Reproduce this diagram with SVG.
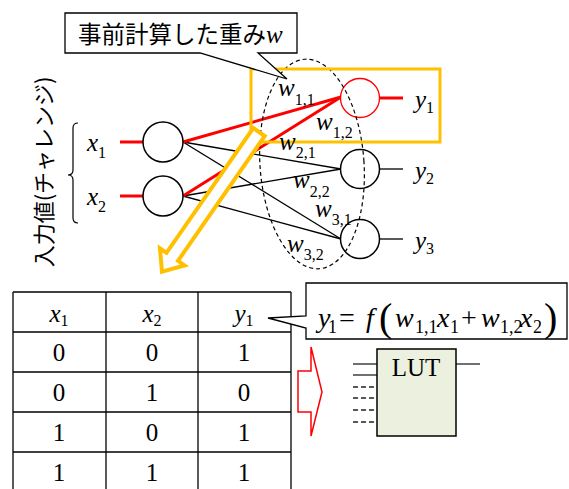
<svg xmlns="http://www.w3.org/2000/svg" width="569" height="489" viewBox="0 0 569 489">
<style>
.blk{stroke:#000;stroke-width:1.3;fill:none}
.red{stroke:#FF0000;stroke-width:3;fill:none}
.node{fill:#fff;stroke:#000;stroke-width:1.5}
.tl{stroke:#000;stroke-width:1.3}
</style>

<g id="connectors">
  <line class="red" x1="120" y1="142" x2="143" y2="142"/>
  <line class="red" x1="120" y1="196" x2="143" y2="196"/>
  <line class="blk" x1="183" y1="142" x2="341" y2="169"/>
  <line class="blk" x1="183" y1="142" x2="341" y2="239"/>
  <line class="blk" x1="183" y1="196" x2="341" y2="169"/>
  <line class="blk" x1="183" y1="196" x2="341" y2="239"/>
  <line class="red" x1="183" y1="142" x2="341" y2="97"/>
  <line class="red" x1="183" y1="196" x2="341" y2="97"/>
  <line class="red" x1="379" y1="98" x2="403" y2="98"/>
  <line class="blk" x1="379" y1="169" x2="403" y2="169"/>
  <line class="blk" x1="379" y1="239" x2="403" y2="239"/>
</g>

<g id="in1"><circle class="node" cx="163" cy="142" r="20"/></g>
<g id="in2"><circle class="node" cx="163" cy="196" r="20"/></g>
<g id="out1"><circle cx="360" cy="98" r="19.5" fill="#fff" stroke="#FF0000" stroke-width="1.3"/></g>
<g id="out2"><circle class="node" cx="360" cy="169" r="19.5"/></g>
<g id="out3"><circle class="node" cx="360" cy="239" r="19.5"/></g>

<g id="weights-ellipse">
  <ellipse cx="312" cy="164" rx="52" ry="105" transform="rotate(-4 312 164)" fill="none" stroke="#000" stroke-width="1.2" stroke-dasharray="4,3"/>
</g>

<g id="highlight">
  <rect x="251" y="69" width="189" height="73" fill="none" stroke="#FFC000" stroke-width="3"/>
</g>

<g id="big-arrow">
  <polygon transform="translate(259,132) rotate(124.8)" points="0,-7 152,-7 152,-15 170,0 152,15 152,7 0,7" fill="#fff" stroke="#FFC000" stroke-width="4"/>
</g>

<g id="labels" font-family="Liberation Serif, serif" font-size="25" font-style="italic" fill="#000">
  <text x="278" y="96">w<tspan font-size="16" font-style="normal" dy="9">1,1</tspan></text>
  <text x="316" y="130">w<tspan font-size="16" font-style="normal" dy="8">1,2</tspan></text>
  <text x="279" y="150">w<tspan font-size="16" font-style="normal" dy="8">2,1</tspan></text>
  <text x="293" y="188">w<tspan font-size="16" font-style="normal" dy="9">2,2</tspan></text>
  <text x="315" y="217">w<tspan font-size="16" font-style="normal" dy="8">3,1</tspan></text>
  <text x="287" y="252">w<tspan font-size="16" font-style="normal" dy="8">3,2</tspan></text>
  <text x="415" y="108">y<tspan font-size="16" font-style="normal" dy="5">1</tspan></text>
  <text x="415" y="179">y<tspan font-size="16" font-style="normal" dy="5">2</tspan></text>
  <text x="415" y="249">y<tspan font-size="16" font-style="normal" dy="5">3</tspan></text>
  <text x="87" y="151">x<tspan font-size="16" font-style="normal" dy="7">1</tspan></text>
  <text x="87" y="205">x<tspan font-size="16" font-style="normal" dy="7">2</tspan></text>
</g>

<g id="input-label">
  <path d="M78,123 Q73,123 73,128 L73,170 Q73,175 68,175 Q73,175 73,180 L73,218 Q73,223 78,223" fill="none" stroke="#000" stroke-width="1.2"/>
  <text font-family="Noto Sans CJK JP, sans-serif" font-size="22" text-anchor="middle" transform="translate(52,172) rotate(-90)">入力値(チャレンジ)</text>
</g>

<g id="callout-weights">
  <path d="M65,13 H297 V53 H258 L287,79 L200,53 H65 Z" fill="#fff" stroke="#000" stroke-width="1.3"/>
  <text font-family="Noto Sans CJK JP, sans-serif" x="78" y="43" font-size="23.5">事前計算した重み<tspan font-family="Liberation Serif, serif" font-style="italic" font-size="25">w</tspan></text>
</g>

<g id="table">
  <line class="tl" x1="13" y1="292" x2="291" y2="292"/>
  <line class="tl" x1="13" y1="332" x2="291" y2="332"/>
  <line class="tl" x1="13" y1="372" x2="291" y2="372"/>
  <line class="tl" x1="13" y1="412" x2="291" y2="412"/>
  <line class="tl" x1="13" y1="452" x2="291" y2="452"/>
  <line class="tl" x1="13" y1="292" x2="13" y2="489"/>
  <line class="tl" x1="106" y1="292" x2="106" y2="489"/>
  <line class="tl" x1="198" y1="292" x2="198" y2="489"/>
  <line class="tl" x1="291" y1="292" x2="291" y2="489"/>
  <g font-family="Liberation Serif, serif" font-size="25" text-anchor="middle">
    <g font-style="italic">
      <text x="59" y="322">x<tspan font-size="16" font-style="normal" dy="4">1</tspan></text>
      <text x="152" y="322">x<tspan font-size="16" font-style="normal" dy="4">2</tspan></text>
      <text x="244" y="322">y<tspan font-size="16" font-style="normal" dy="4">1</tspan></text>
    </g>
    <text x="59" y="361">0</text><text x="152" y="361">0</text><text x="244" y="361">1</text>
    <text x="59" y="401">0</text><text x="152" y="401">1</text><text x="244" y="401">0</text>
    <text x="59" y="441">1</text><text x="152" y="441">0</text><text x="244" y="441">1</text>
    <text x="59" y="481">1</text><text x="152" y="481">1</text><text x="244" y="481">1</text>
  </g>
</g>

<g id="callout-formula">
  <path d="M306,283 H567 V339 H306 V328 L268,318 L306,316 Z" fill="#fff" stroke="#000" stroke-width="1.3"/>
  <g font-family="Liberation Serif, serif" font-size="28">
    <text x="318" y="327" font-style="italic">y</text>
    <text x="328" y="333" font-size="18">1</text>
    <text x="339" y="327">=</text>
    <text x="366" y="327" font-style="italic">f</text>
    <text x="379" y="331" font-size="40">(</text>
    <text x="395" y="327" font-style="italic">w</text>
    <text x="415" y="333" font-size="18">1,1</text>
    <text x="437" y="327" font-style="italic">x</text>
    <text x="450" y="333" font-size="18">1</text>
    <text x="461" y="327">+</text>
    <text x="481" y="327" font-style="italic">w</text>
    <text x="500" y="333" font-size="18">1,2</text>
    <text x="520" y="327" font-style="italic">x</text>
    <text x="533" y="333" font-size="18">2</text>
    <text x="544" y="331" font-size="40">)</text>
  </g>
</g>

<g id="convert-arrow">
  <polygon points="298,371 311,371 311,347 322,392 311,436 311,412 298,412" fill="#fff" stroke="#FF0000" stroke-width="1.5"/>
</g>

<g id="lut">
  <line x1="353" y1="364" x2="377" y2="364" stroke="#222" stroke-width="1.3"/>
  <line x1="353" y1="375" x2="377" y2="375" stroke="#222" stroke-width="1.3"/>
  <g stroke="#222" stroke-width="1.3" stroke-dasharray="5,3">
    <line x1="353" y1="387" x2="377" y2="387"/>
    <line x1="353" y1="398" x2="377" y2="398"/>
    <line x1="353" y1="410" x2="377" y2="410"/>
    <line x1="353" y1="422" x2="377" y2="422"/>
  </g>
  <line x1="456" y1="364" x2="480" y2="364" stroke="#222" stroke-width="1.3"/>
  <rect x="377" y="349" width="79" height="87" fill="#EBF1DE" stroke="#000" stroke-width="1.5"/>
  <text x="416" y="376" font-family="Liberation Serif, serif" font-size="25" text-anchor="middle">LUT</text>
</g>
</svg>
